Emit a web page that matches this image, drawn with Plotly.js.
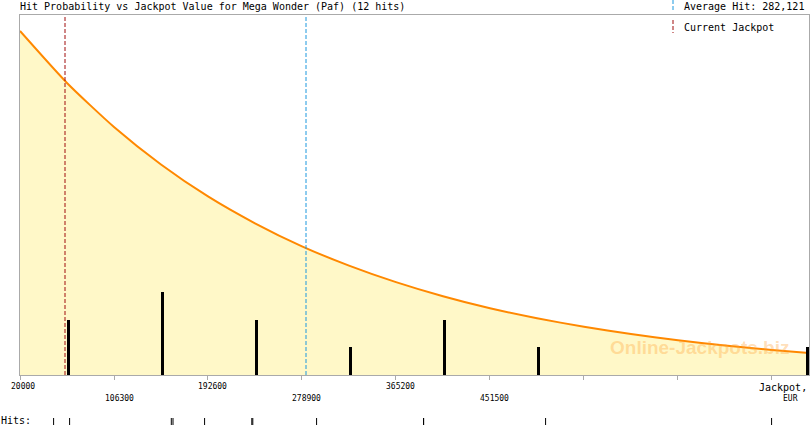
<!DOCTYPE html>
<html>
<head>
<meta charset="utf-8">
<script src="https://cdn.plot.ly/plotly-3.0.1.min.js"></script>
<style>
  html, body { margin: 0; padding: 0; background: #ffffff; }
  #chart { width: 810px; height: 425px; }
</style>
</head>
<body>
<div id="chart"></div>
<script>
// ---- Data ----
const gameName = "Mega Wonder (Paf)";
const averageHit = 282121;          // EUR
const currentJackpot = 61000;       // EUR
const xMin = 20000;                 // left end of the jackpot axis, EUR
const xMax = 744400;                // right end of the jackpot axis, EUR

// Jackpot axis ticks and labels
const jackpotTicks = [20000, 106300, 192600, 278900, 365200, 451500, 537800, 624100, 710400];
const tickLabels   = ["20000", "106300", "192600", "278900", "365200", "451500", "", "", ""];

// Hit probability curve (relative), read along the jackpot axis
const curveJackpot = [20000, 63150, 106300, 149450, 192600, 235750, 278900, 322050, 365200,
                      408350, 451500, 494650, 537800, 580950, 624100, 667250, 710400, 744400];
const curveProb    = [1.000, 0.849, 0.721, 0.612, 0.519, 0.441, 0.374, 0.318, 0.270,
                      0.229, 0.194, 0.165, 0.140, 0.119, 0.101, 0.0857, 0.0727, 0.0641];

// Histogram of hits per jackpot bin (last bin shown at the axis end)
const binCenters = [64500, 150800, 237100, 323400, 409700, 496000, 743000];
const binCounts  = [2, 3, 2, 1, 2, 1, 1];

// Individual hits (jackpot values at which it was won)
const hitValues = [50850, 65540, 158910, 160470, 189480, 232820, 233740, 292310,
                   390540, 390540, 502550, 710050];

// ---- Layout constants ----
const W = 810, H = 425;
const M = {l: 20, r: 1, t: 15, b: 0};
const plotW = W - M.l - M.r;               // 789
const plotH = H - M.t - M.b;               // 410
const mainBottomPx = 375;
const mainDomainBottom = (H - M.b - mainBottomPx) / plotH;
const curveTop = 1.0465;
const font = "DejaVu Sans Mono, monospace";
const redCol = "#a00c0c";
const blueCol = "#1c98de";
const px2paperY = (py) => (H - M.b - py) / plotH;
const px2paperX = (px) => (px - M.l) / plotW;
// keep 1px reference lines on whole device pixels (like the reference renderer)
const snapX = (v) => {
  const s = plotW / (xMax - xMin);
  return xMin + Math.floor((v - xMin) * s + 0.7) / s;
};

const traces = [
  {
    x: curveJackpot, y: curveProb, type: "scatter", mode: "lines",
    line: {color: "#ff8800", width: 2, shape: "spline", smoothing: 0.6},
    fill: "tozeroy", fillcolor: "#fff8c8",
    xaxis: "x", yaxis: "y", hoverinfo: "skip", showlegend: false
  },
  {
    x: [snapX(currentJackpot), snapX(currentJackpot)], y: [0, curveTop], type: "scatter", mode: "lines",
    line: {color: redCol, width: 1, dash: "4px,2px"},
    xaxis: "x", yaxis: "y", hoverinfo: "skip", showlegend: false
  },
  {
    x: [snapX(averageHit), snapX(averageHit)], y: [0, curveTop], type: "scatter", mode: "lines",
    line: {color: blueCol, width: 1, dash: "4px,2px"},
    xaxis: "x", yaxis: "y", hoverinfo: "skip", showlegend: false
  },
  {
    x: binCenters, y: binCounts, type: "bar", width: 2800,
    marker: {color: "#000000", line: {width: 0}},
    xaxis: "x", yaxis: "y2", hoverinfo: "skip", showlegend: false
  },
  {
    x: hitValues, y: hitValues.map(() => 0), type: "scatter", mode: "markers",
    marker: {symbol: "line-ns", size: 12, line: {color: "#000000", width: 1}},
    xaxis: "x", yaxis: "y3", hoverinfo: "skip", showlegend: false
  }
];

const annotations = [];
jackpotTicks.forEach((t, i) => {
  if (!tickLabels[i]) return;
  annotations.push({
    x: t, xref: "x", y: mainDomainBottom, yref: "paper",
    text: tickLabels[i], showarrow: false,
    xanchor: "left", yanchor: "middle", xshift: -9.5,
    yshift: (i % 2 === 0) ? -11 : -23.3,
    borderpad: 0, borderwidth: 0,
    font: {family: font, size: 8, color: "#000000"}
  });
});
annotations.push(
  {x: 1, xref: "paper", y: mainDomainBottom, yref: "paper", text: "Jackpot,",
   showarrow: false, xanchor: "right", yanchor: "middle", xshift: -1, yshift: -12,
   borderpad: 0, font: {family: font, size: 10, color: "#000000"}},
  {x: px2paperX(790.5), xref: "paper", y: mainDomainBottom, yref: "paper", text: "EUR",
   showarrow: false, xanchor: "center", yanchor: "middle", yshift: -23.3,
   borderpad: 0, font: {family: font, size: 8, color: "#000000"}},
  {x: px2paperX(0), xref: "paper", y: px2paperY(420), yref: "paper", text: "Hits:",
   showarrow: false, xanchor: "left", yanchor: "middle",
   borderpad: 0, font: {family: font, size: 10, color: "#000000"}},
  {x: px2paperX(683), xref: "paper", y: px2paperY(6.5), yref: "paper",
   text: "Average Hit: " + averageHit.toLocaleString("en-US"),
   showarrow: false, xanchor: "left", yanchor: "middle",
   borderpad: 0, font: {family: font, size: 10, color: "#000000"}},
  {x: px2paperX(683), xref: "paper", y: px2paperY(27), yref: "paper",
   text: "Current Jackpot",
   showarrow: false, xanchor: "left", yanchor: "middle",
   borderpad: 0, font: {family: font, size: 10, color: "#000000"}},
  {x: px2paperX(699), xref: "paper", y: px2paperY(347.5), yref: "paper",
   text: "<b>Online-Jackpots.biz</b>",
   showarrow: false, xanchor: "center", yanchor: "middle",
   font: {family: "Liberation Sans, Arial, sans-serif", size: 19, color: "rgba(255,165,60,0.36)"}}
);

const shapes = [
  {type: "line", xref: "paper", yref: "paper",
   x0: px2paperX(673), x1: px2paperX(673), y0: px2paperY(0), y1: px2paperY(11),
   line: {color: blueCol, width: 1, dash: "4px,2px"}},
  {type: "line", xref: "paper", yref: "paper",
   x0: px2paperX(673), x1: px2paperX(673), y0: px2paperY(20), y1: px2paperY(33),
   line: {color: redCol, width: 1, dash: "4px,2px"}}
];

const nHits = hitValues.length;
const layout = {
  width: W, height: H,
  margin: M,
  paper_bgcolor: "#ffffff", plot_bgcolor: "rgba(0,0,0,0)",
  title: {
    text: "Hit Probability vs Jackpot Value for " + gameName + " (" + nHits + " hits)",
    font: {family: font, size: 10, color: "#000000"},
    x: 20 / W, xanchor: "left", xref: "container",
    y: 1 - 6.5 / H, yanchor: "middle", yref: "container", pad: {t: 0, b: 0, l: 0, r: 0}
  },
  xaxis: {
    range: [xMin, xMax], tickvals: jackpotTicks, showticklabels: false,
    ticks: "outside", ticklen: 4, tickcolor: "#aaaaaa", tickwidth: 1,
    showline: true, linecolor: "#aaaaaa", linewidth: 1, mirror: true,
    showgrid: false, zeroline: false, anchor: "y", fixedrange: true
  },
  yaxis: {
    domain: [mainDomainBottom, 1], range: [0, curveTop],
    showline: true, linecolor: "#aaaaaa", linewidth: 1, mirror: true,
    showticklabels: false, ticks: "", showgrid: false, zeroline: false, fixedrange: true
  },
  yaxis2: {
    overlaying: "y", range: [0, 13], visible: false, showgrid: false, zeroline: false
  },
  yaxis3: {
    domain: [0, px2paperY(418)], range: [0, 1], visible: false,
    showgrid: false, zeroline: false, anchor: "x"
  },
  bargap: 0,
  annotations: annotations,
  shapes: shapes,
  showlegend: false
};

Plotly.newPlot("chart", traces, layout, {displayModeBar: false, staticPlot: true});
</script>
</body>
</html>
